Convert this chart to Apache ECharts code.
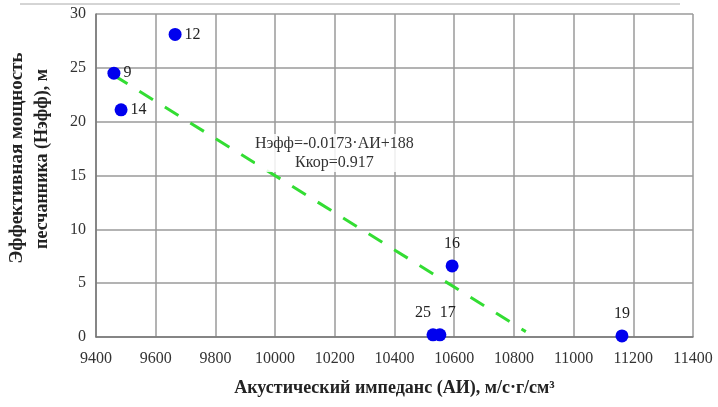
<!DOCTYPE html>
<html>
<head>
<meta charset="utf-8">
<script src="https://cdn.jsdelivr.net/npm/echarts@6/dist/echarts.min.js"></script>
<style>
  html, body { margin: 0; padding: 0; background: #fff; }
  #main { width: 718px; height: 407px; }
</style>
</head>
<body>
<div id="main"></div>
<script>
// данные скважин: АИ, Нэфф, номер
var wellAI = [9665, 9460, 9484, 10593, 10529, 10552, 11162];
var wellH = [28.1, 24.5, 21.1, 6.6, 0.2, 0.2, 0.1];
var wellNames = ['12', '9', '14', '16', '25', '17', '19'];
var labelPos = ['right', 'right', 'right', 'top', 'top', 'top', 'top'];
var labelShift = [0, 0, 0, 0, -10, 8, 0];
// линия тренда (концы)
var trendAI = [9460, 10840];
var trendH = [24.3, 0.5];
var xTicks = [9400, 11400, 200];
var yTicks = [0, 30, 5];

var serif = '"Liberation Serif", "DejaVu Serif", serif';
var myChart = echarts.init(document.getElementById('main'));

var points = wellAI.map(function (ai, i) {
    return {
        value: [ai, wellH[i]],
        name: wellNames[i],
        label: {
            position: labelPos[i],
            distance: labelPos[i] === 'top' ? 8 : 3,
            offset: [labelShift[i], 0]
        }
    };
});

var option = {
    animation: false,
    grid: { left: 96, right: 25, top: 14, bottom: 70 },
    xAxis: {
        type: 'value',
        min: xTicks[0], max: xTicks[1], interval: xTicks[2],
        name: 'Акустический импеданс (АИ), м/с·г/см³',
        nameLocation: 'middle',
        nameGap: 42,
        nameTextStyle: { fontFamily: serif, fontSize: 18, fontWeight: 'bold', color: '#222' },
        axisLine: { lineStyle: { color: '#777', width: 1.5 } },
        axisTick: { show: false },
        axisLabel: {
            fontFamily: serif, fontSize: 16, color: '#333', margin: 14,
            formatter: function (v) { return String(v); }
        },
        splitLine: { lineStyle: { color: '#9a9a9a', width: 1.5 } }
    },
    yAxis: {
        type: 'value',
        min: yTicks[0], max: yTicks[1], interval: yTicks[2],
        axisLine: { show: true, lineStyle: { color: '#777', width: 1.5 } },
        axisTick: { show: false },
        axisLabel: { fontFamily: serif, fontSize: 16, color: '#333', margin: 10 },
        splitLine: { lineStyle: { color: '#9a9a9a', width: 1.5 } }
    },
    graphic: [
        {
            type: 'line',
            shape: { x1: 20, y1: 4, x2: 680, y2: 4 },
            style: { stroke: '#aaa', lineWidth: 1 }
        },
        {
            type: 'text',
            x: 17, y: 158,
            rotation: Math.PI / 2,
            style: {
                text: 'Эффективная мощность',
                textAlign: 'center',
                textVerticalAlign: 'middle',
                font: 'bold 19px ' + serif,
                fill: '#222'
            }
        },
        {
            type: 'text',
            x: 42, y: 159,
            rotation: Math.PI / 2,
            style: {
                text: 'песчанника (Нэфф), м',
                textAlign: 'center',
                textVerticalAlign: 'middle',
                font: 'bold 18px ' + serif,
                fill: '#222'
            }
        },
        {
            type: 'text',
            left: 255, top: 134,
            z: 100,
            style: {
                text: 'Нэфф=-0.0173·АИ+188\nКкор=0.917',
                textAlign: 'center',
                font: '16px ' + serif,
                fill: '#333',
                lineHeight: 19,
                backgroundColor: 'rgba(255,255,255,0.85)'
            }
        }
    ],
    series: [
        {
            type: 'line',
            data: trendAI.map(function (ai, i) { return [ai, trendH[i]]; }),
            symbol: 'none',
            lineStyle: { color: '#33dd33', width: 3, type: [16, 14] },
            z: 2
        },
        {
            type: 'scatter',
            data: points,
            symbolSize: 13,
            itemStyle: { color: '#0000ee', opacity: 1 },
            label: {
                show: true,
                formatter: '{b}',
                fontFamily: serif,
                fontSize: 16,
                color: '#222'
            },
            z: 3
        }
    ]
};
myChart.setOption(option);
</script>
</body>
</html>
